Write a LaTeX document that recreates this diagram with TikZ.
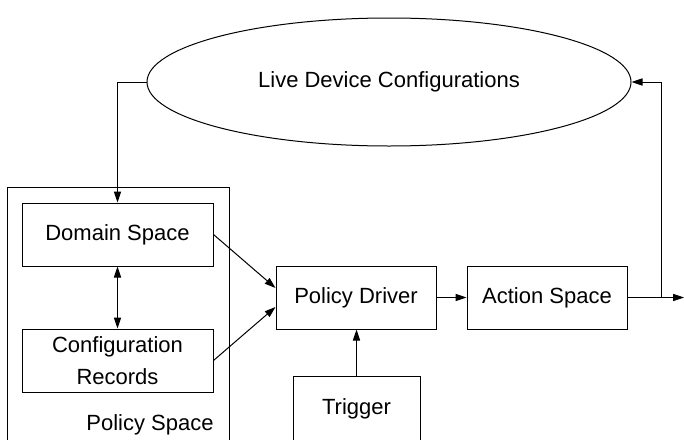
\documentclass[tikz,border=0pt]{standalone}
\usepackage{fontspec}
\setmainfont{Liberation Sans}
\usetikzlibrary{arrows.meta,shapes.geometric,calc}

\tikzset{
  every node/.style={font=\fontsize{11}{16}\selectfont},
  box/.style={draw, line width=0.5pt, rectangle, inner sep=0pt, align=center},
  arr/.style={line width=0.5pt, -{Triangle[length=5.5pt,width=3.6pt]}},
  dblarr/.style={line width=0.5pt, {Triangle[length=5.5pt,width=3.6pt]}-{Triangle[length=5.5pt,width=3.6pt]}},
  plain/.style={line width=0.5pt}
}

\begin{document}
\begin{tikzpicture}[x=0.5pt, y=-0.5pt]
  \useasboundingbox (0,0) rectangle (684,439);
  \clip (0,0) rectangle (684,439);

  % outer container, open at the bottom edge
  \node[box, minimum width=111pt, minimum height=136.5pt] (policyspace) at (118,323.5) {};
  \node (policylabel) at (150,425) {Policy Space};

  % inner boxes
  \node[box, minimum width=95.5pt, minimum height=31.5pt] (domain) at (117.5,234.5) {Domain Space};
  \node[box, minimum width=95.5pt, minimum height=31.5pt] (config) at (117.5,360.5) {Configuration\\Records};

  \node[box, minimum width=80pt, minimum height=31.5pt] (driver) at (356,297.5) {Policy Driver};
  \node[box, minimum width=80pt, minimum height=31.5pt] (action) at (547,297.5) {Action Space};
  \node[box, minimum width=63.5pt, minimum height=32.5pt] (trigger) at (356.5,408.5) {Trigger};

  % device configurations
  \node[draw, line width=0.5pt, ellipse, inner sep=0pt, minimum width=242pt, minimum height=64pt] (live) at (389,82) {Live Device Configurations};

  \coordinate (junction) at (661,297.5);
  \coordinate (out) at (684,297.5);

  % connectors
  \draw[arr] (live.west) -| (domain.north);
  \draw[dblarr] (domain.south) -- (config.north);
  \draw[arr] (domain.east) -- ($(driver.west)+(0,-9.5)$);
  \draw[arr] (config.east) -- ($(driver.west)+(0,9.5)$);
  \draw[arr] (trigger.north) -- (trigger.north |- driver.south);
  \draw[arr] (driver.east) -- (action.west);
  \draw[arr] (action.east) -- (out);
  \draw[arr] (junction) |- (live.east);
\end{tikzpicture}
\end{document}
